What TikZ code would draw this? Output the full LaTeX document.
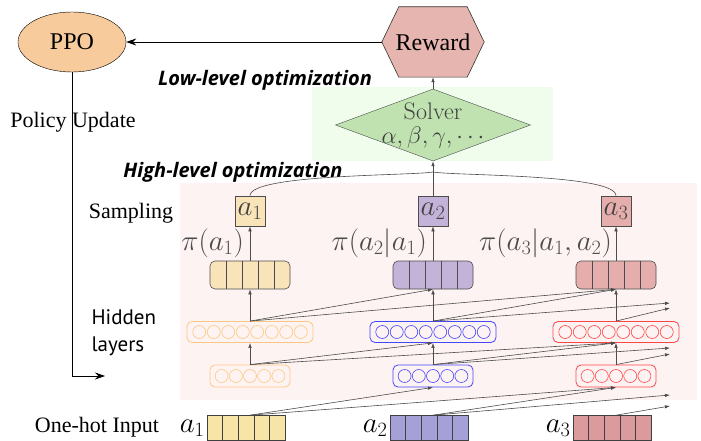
\RequirePackage{fix-cm}
\documentclass[tikz,border=0pt]{standalone}
\usepackage{fontspec}
\usepackage{xcolor}
\usetikzlibrary{arrows.meta, positioning, shapes.geometric}
\newfontfamily\timesfont{Liberation Serif}
\newfontfamily\labelfont{PT Sans}
\newfontfamily\optfont{Open Sans}

\definecolor{ppoorange}{RGB}{248,203,157}
\definecolor{rewardpink}{RGB}{230,181,175}
\definecolor{solvergreen}{RGB}{192,226,176}
\definecolor{lowbg}{RGB}{240,253,236}
\definecolor{highbg}{RGB}{253,243,242}
\definecolor{samp1}{RGB}{249,228,186}
\definecolor{samp2}{RGB}{196,179,217}
\definecolor{samp3}{RGB}{229,174,172}
\definecolor{hid1}{RGB}{255,200,128}
\definecolor{hid2}{RGB}{70,70,255}
\definecolor{hid3}{RGB}{255,70,70}
\definecolor{inp1}{RGB}{247,229,168}
\definecolor{inp2}{RGB}{166,160,216}
\definecolor{inp3}{RGB}{219,154,156}

\begin{document}
\begin{tikzpicture}[x=1pt,y=-1pt,>={Latex[length=5pt,width=3.5pt]}]
    \tikzstyle{conn}=[->, draw=black!70, line width=0.6pt]
    \tikzstyle{bigarrow}=[-{Stealth[length=10pt,width=7pt]}, draw=black, line width=0.8pt]
    \tikzstyle{serifbig}=[font=\timesfont\fontsize{22}{26}\selectfont]
    \tikzstyle{mathlbl}=[font=\fontsize{29}{33}\selectfont]
    \tikzstyle{optlbl}=[font=\optfont\bfseries\itshape\fontsize{20}{24}\selectfont]
    \tikzstyle{sampbox}=[draw=black!70, line width=0.6pt, minimum width=30pt, minimum height=30pt, inner sep=0pt, text=black!75, mathlbl]
    \tikzstyle{outbox}=[draw=black!70, line width=0.6pt, rounded corners=5pt, minimum width=80pt, minimum height=28pt, inner sep=0pt]
    \tikzstyle{hidbig}=[line width=0.8pt, rounded corners=5pt, minimum width=126pt, minimum height=21pt, inner sep=0pt]
    \tikzstyle{hidsmall}=[line width=0.8pt, rounded corners=5pt, minimum width=80pt, minimum height=22pt, inner sep=0pt]
    \tikzstyle{inbox}=[draw=black!75, line width=0.6pt, minimum width=78pt, minimum height=25pt, inner sep=0pt]

    \useasboundingbox (0,0) rectangle (701,441);
    \fill[lowbg] (312,87) rectangle (553,161);
    \fill[highbg] (180,183) rectangle (697,400);

    \node[ellipse, draw, fill=ppoorange, minimum width=108pt, minimum height=60pt, font=\timesfont\fontsize{24}{28}\selectfont] (ppo) at (72,42) {PPO};

    \node[minimum width=102pt, minimum height=70pt, inner sep=0pt] (reward) at (433,42) {};
    \filldraw[fill=rewardpink, draw=black!80, line width=0.6pt] ([xshift=17pt]reward.north west) -- ([xshift=-17pt]reward.north east) -- (reward.east)
        -- ([xshift=-17pt]reward.south east) -- ([xshift=17pt]reward.south west) -- (reward.west) -- cycle;
    \node[font=\timesfont\fontsize{24}{28}\selectfont] (rewardtxt) at (reward) {Reward};

    \node[diamond, draw=black!70, fill=solvergreen, minimum width=195pt, minimum height=72pt, inner sep=0pt] (solver) at (433,125) {};
    \node[text=black!75, align=center, font=\fontsize{24}{24}\selectfont] (solvertxt) at (solver) {Solver\\$\alpha,\beta,\gamma,\cdots$};

    \draw[bigarrow] (reward.west) -- (ppo.east);
    \draw[conn] (solver.north) -- (reward.south);

    \node[optlbl] (lowlbl) at (265,80) {Low-level optimization};
    \node[optlbl] (highlbl) at (233,172) {High-level optimization};

    \node[serifbig] (policy) at (73,122) {Policy Update};
    \coordinate (upd) at (105,376);
    \draw[bigarrow] (ppo.south) |- (upd);

    \node[serifbig] (samplbl) at (131,213) {Sampling};
    \node[anchor=west, align=left, font=\labelfont\fontsize{21}{27}\selectfont] (hidlbl) at (88,333) {Hidden\\layers};
    \node[serifbig] (onehot) at (97,427) {One-hot Input};

	\foreach \i/\cs/\ch/\cn in {1/samp1/hid1/inp1,2/samp2/hid2/inp2,3/samp3/hid3/inp3}{
		\pgfmathsetmacro\x{250+(\i-1)*183}
		\node[sampbox, fill=\cs] (s-\i) at (\x,211) {$a_{\i}$};
		\node[outbox, fill=\cs] (o-\i) at (\x,275) {};
		\foreach \d in {-24,-8,8,24}
			\draw[black!70, line width=0.6pt] ([xshift=\d pt]o-\i.north) -- ([xshift=\d pt]o-\i.south);
		\node[hidbig, draw=\ch] (h2-\i) at (\x,332) {};
		\foreach \c in {0,...,7}
			\draw[\ch, line width=0.6pt] ([xshift={(\c-3.5)*14.5pt}]h2-\i.center) circle (6.5pt);
		\node[hidsmall, draw=\ch] (h1-\i) at (\x,376) {};
		\foreach \c in {0,...,4}
			\draw[\ch, line width=0.6pt] ([xshift={(\c-2)*14.2pt}]h1-\i.center) circle (6.5pt);
		\node[inbox, fill=\cn] (in-\i) at (\x-4,428) {};
		\foreach \d in {-23.4,-7.8,7.8,23.4}
			\draw[black!75, line width=0.6pt] ([xshift=\d pt]in-\i.north) -- ([xshift=\d pt]in-\i.south);
		\node[mathlbl, anchor=east, inner sep=2pt] (il-\i) at (in-\i.west) {$a_{\i}$};
		\draw[conn] (o-\i.north) -- (s-\i.south);
		\draw[conn] (h2-\i.north) -- (o-\i.south);
		\draw[conn] (h1-\i.north) -- (h2-\i.south);
	}

	\node[mathlbl, text=black!70, anchor=east, inner sep=0pt] (pi-1) at (244,243) {$\pi(a_1)$};
	\node[mathlbl, text=black!70, anchor=east, inner sep=0pt] (pi-2) at (427,243) {$\pi(a_2|a_1)$};
	\node[mathlbl, text=black!70, anchor=east, inner sep=0pt] (pi-3) at (612,243) {$\pi(a_3|a_1,a_2)$};

	% free ends towards the next step
	\coordinate (f2a) at (670,303);
	\coordinate (f2b) at (670,308);
	\coordinate (f1a) at (670,348);
	\coordinate (f1b) at (670,354);
	\coordinate (f0a) at (670,395);
	\coordinate (f0b) at (670,406);

	\draw[conn] (h2-1.north) -- (o-2.south);
	\draw[conn] (h2-1.north) -- (o-3.south);
	\draw[conn] (h2-2.north) -- (o-3.south);
	\draw[conn] (h2-2.north) -- (f2a);
	\draw[conn] (h2-3.north) -- (f2b);

	\draw[conn] (h1-1.north) -- (h2-2.south);
	\draw[conn] (h1-1.north) -- (h2-3.south);
	\draw[conn] (h1-2.north) -- (h2-3.south);
	\draw[conn] (h1-2.north) -- (f1a);
	\draw[conn] (h1-3.north) -- (f1b);

	\draw[conn] (in-1.north -| s-1) -- (h1-2.south);
	\draw[conn] (in-1.north -| s-1) -- (h1-3.south);
	\draw[conn] (in-2.north -| s-2) -- (h1-3.south);
	\draw[conn] (in-2.north -| s-2) -- (f0a);
	\draw[conn] (in-3.north -| s-3) -- (f0b);

	\coordinate (join) at (433,172);
	\draw[black!70, line width=0.6pt] (s-1.north) to[out=90,in=190,looseness=0.3] (join);
	\draw[black!70, line width=0.6pt] (s-2.north) -- (join);
	\draw[black!70, line width=0.6pt] (s-3.north) to[out=90,in=-10,looseness=0.3] (join);
	\draw[conn] (join) -- (solver.south);
\end{tikzpicture}
\end{document}
